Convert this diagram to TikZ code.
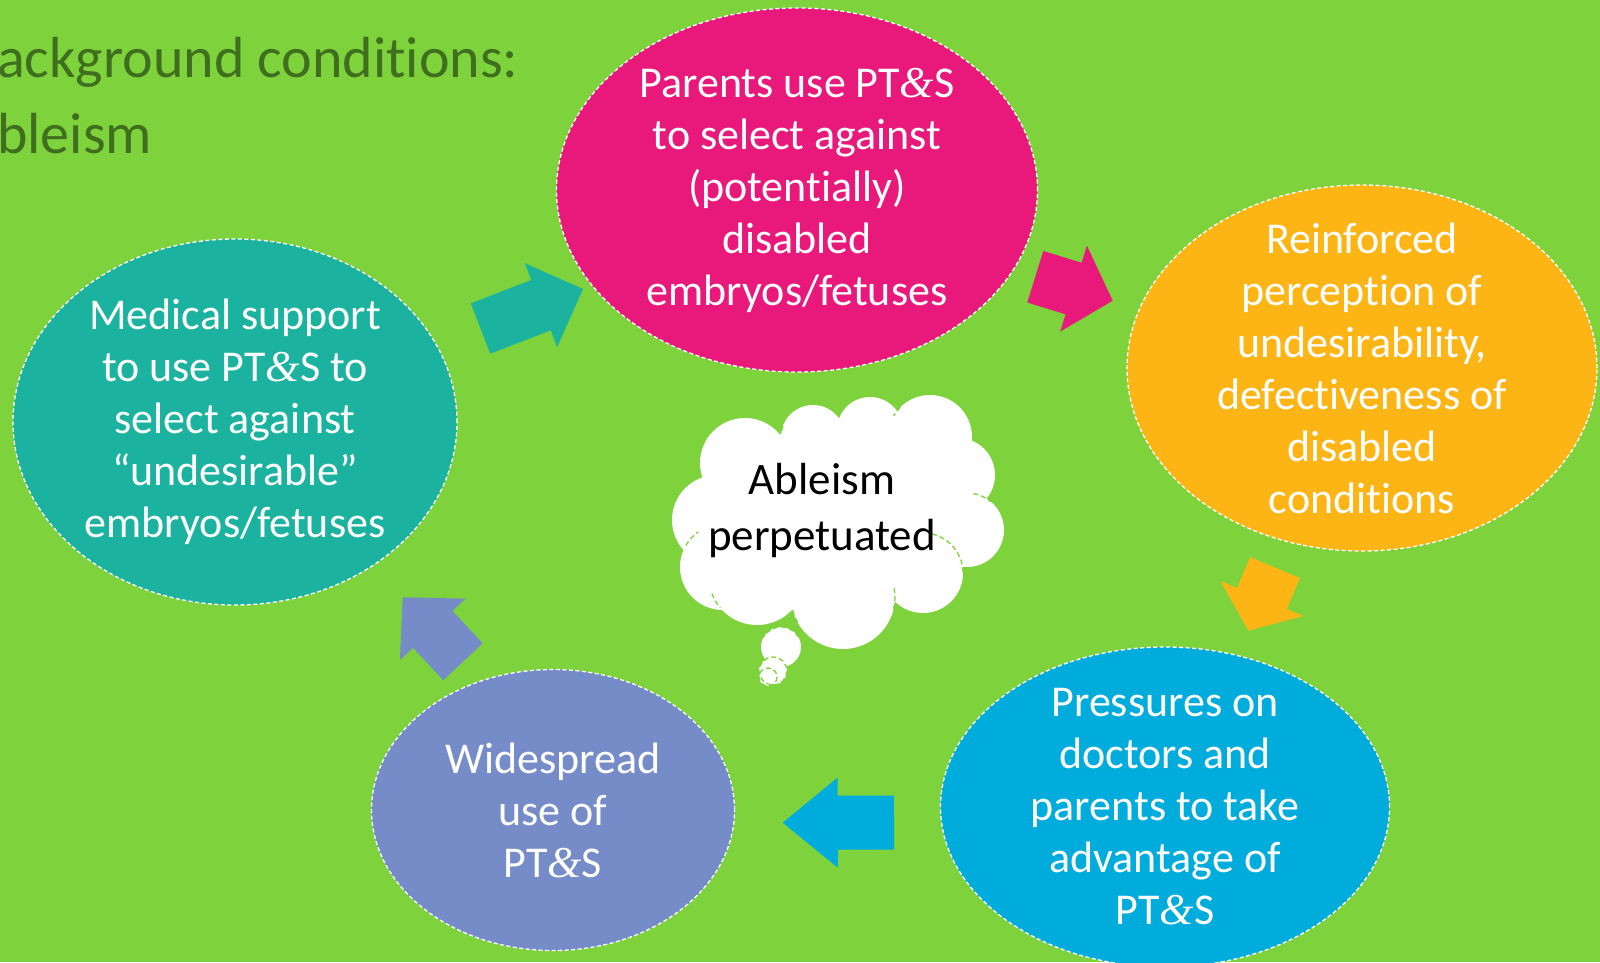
\documentclass[tikz,border=0pt]{standalone}
\usepackage{fontspec}
\setmainfont{Carlito}[Ligatures=NoCommon]
\newfontfamily\ampfont{Liberation Serif}
\usetikzlibrary{shapes.geometric,calc}

\definecolor{bg}{HTML}{7ED33C}
\definecolor{titlegreen}{HTML}{3F6F1E}
\definecolor{cpink}{HTML}{E9197C}
\definecolor{corange}{HTML}{FDB515}
\definecolor{cblue}{HTML}{00ACDC}
\definecolor{cpurple}{HTML}{758CC9}
\definecolor{cteal}{HTML}{1BB39F}

% ampersand set in a serif italic
\newcommand\amp{{\ampfont\itshape\&}}
% "ti" kept as two separate letters
\newcommand\tI{t\kern0pt i}

% block arrow from tail #1 to tip #2, colour #3, head length #4
\newcommand\blockarrow[4]{%
  \fill[#3] ($(#1)!27pt!90:(#2)$)
    -- ($(#2)!#4!(#1)!27pt!90:(#2)$)
    -- ($(#2)!#4!(#1)!45pt!90:(#2)$)
    -- (#2)
    -- ($(#2)!#4!(#1)!45pt!-90:(#2)$)
    -- ($(#2)!#4!(#1)!27pt!-90:(#2)$)
    -- ($(#1)!27pt!-90:(#2)$) -- cycle;}

\tikzset{
  bubble/.style={ellipse, draw=white, line width=1.3pt,
    dash pattern=on 4pt off 2.5pt, inner sep=0pt},
  bubbletext/.style={align=center, text=white, inner sep=0pt,
    font=\fontsize{44}{52}\selectfont},
  titletext/.style={anchor=base west, inner sep=0pt, text=titlegreen,
    font=\fontsize{58}{70}\selectfont},
  cloudarc/.style={draw=bg, line width=1.3pt, dash pattern=on 5pt off 3pt},
}

\begin{document}
\begin{tikzpicture}[x=1pt, y=-1pt]
  \useasboundingbox (0,0) rectangle (1600,962);
  \fill[bg] (0,0) rectangle (1600,962);

  % heading
  \node[titletext] (head1) at (-3,77) {ackground condi\tI ons:};
  \node[titletext] (head2) at (-3,153) {bleism};

  % the five stages
  \node[bubble, fill=cpink, minimum width=481pt, minimum height=364pt] (parents) at (797,190) {};
  \node[bubbletext] (parentsT) at (parents.center)
    {Parents use PT\amp S\\to select against\\(poten\tI ally)\\disabled\\embryos/fetuses};

  \node[bubble, fill=corange, minimum width=470pt, minimum height=366pt] (reinf) at (1362,368) {};
  \node[bubbletext] (reinfT) at (reinf.center)
    {Reinforced\\percep\tI on of\\undesirability,\\defectiveness of\\disabled\\condi\tI ons};

  \node[bubble, fill=cblue, minimum width=449pt, minimum height=320pt] (press) at (1165,807) {};
  \node[bubbletext] (pressT) at (press.center)
    {Pressures on\\doctors and\\parents to take\\advantage of\\PT\amp S};

  \node[bubble, fill=cpurple, minimum width=363pt, minimum height=281pt] (wide) at (553,810) {};
  \node[bubbletext] (wideT) at (wide.center)
    {Widespread\\use of\\PT\amp S};

  \node[bubble, fill=cteal, minimum width=444pt, minimum height=366pt] (medical) at (235,422) {};
  \node[bubbletext] (medicalT) at (medical.center)
    {Medical support\\to use PT\amp S to\\select against\\``undesirable''\\embryos/fetuses};

  % block arrows between the stages
  \coordinate (a1t) at (480.5,328.5); \coordinate (a1h) at (583,289);
  \coordinate (a2t) at (1035.3,276.7); \coordinate (a2h) at (1112.7,300.7);
  \coordinate (a3t) at (1275,567.5);   \coordinate (a3h) at (1248.3,630.7);
  \coordinate (a4t) at (894,822.5);    \coordinate (a4h) at (782.7,822.7);
  \coordinate (a5t) at (463,661.7);    \coordinate (a5h) at (402.7,597.3);
  \blockarrow{a1t}{a1h}{cteal}{45pt}
  \blockarrow{a2t}{a2h}{cpink}{41pt}
  \blockarrow{a3t}{a3h}{corange}{35pt}
  \blockarrow{a4t}{a4h}{cblue}{55pt}
  \blockarrow{a5t}{a5h}{cpurple}{44pt}

  % thought cloud
  \fill[white]
    (745,463) circle[radius=45]
    (813,437) circle[radius=32]
    (870,430) circle[radius=33]
    (930,437) circle[radius=42]
    (958,475) circle[radius=37]
    (967,530) circle[radius=37]
    (923,573) circle[radius=40]
    (843,597) circle[radius=52]
    (757,577) circle[radius=48]
    (723,567) circle[radius=43]
    (717,520) circle[radius=45]
    (835,515) ellipse[x radius=125, y radius=90]
    (781,647) circle[radius=20]
    (773,671) circle[radius=14]
    (768,677) circle[radius=9];
  \draw[cloudarc] (923,573) ++(-77:40) arc[start angle=-77, end angle=0, radius=40];
  \draw[cloudarc] (723,567) ++(-150:43) arc[start angle=-150, end angle=-125, radius=43];
  \draw[cloudarc] (967,530) ++(-80:37) arc[start angle=-80, end angle=-50, radius=37];
  \draw[cloudarc] (757,577) ++(-200:48) arc[start angle=-200, end angle=-220, radius=48];
  \draw[cloudarc] (843,597) ++(-10:52) arc[start angle=-10, end angle=15, radius=52];
  \draw[cloudarc] (843,597) ++(-195:52) arc[start angle=-195, end angle=-210, radius=52];
  \draw[cloudarc] (813,437) ++(-160:32) arc[start angle=-160, end angle=-175, radius=32];
  \draw[cloudarc] (930,437) ++(-135:42) arc[start angle=-135, end angle=-150, radius=42];
  \draw[cloudarc] (781,647) ++(-30:20) arc[start angle=-30, end angle=-150, radius=20];
  \draw[cloudarc] (773,671) circle[radius=14];
  \draw[cloudarc] (768,677) circle[radius=9];
  \node[align=center, inner sep=0pt, text=black, font=\fontsize{45}{56}\selectfont]
    (ableism) at (822,510) {Ableism\\perpetuated};
\end{tikzpicture}
\end{document}
